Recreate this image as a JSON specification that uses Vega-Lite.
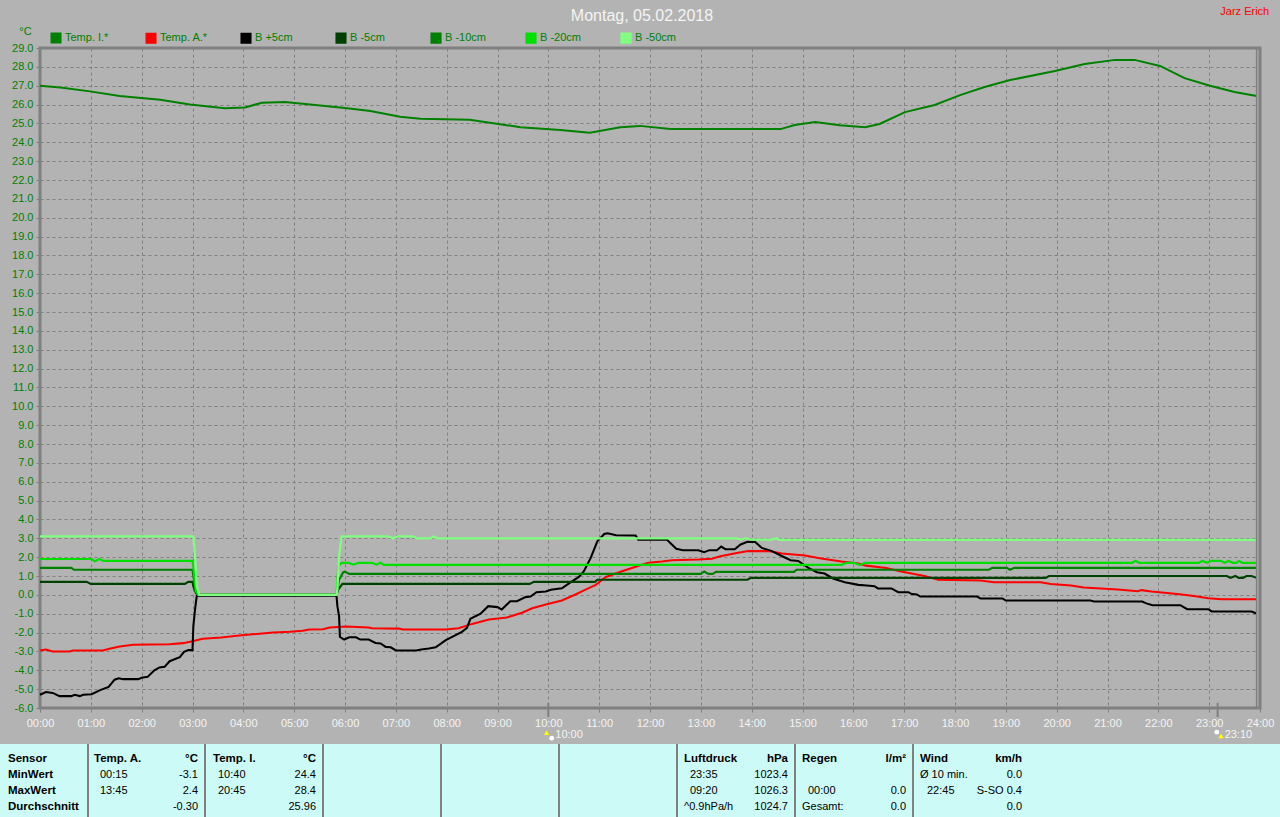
{"$schema":"https://vega.github.io/schema/vega-lite/v6.json","padding":{"left":0,"top":4,"right":0,"bottom":0},"background":"#b3b3b3","bounds":"flush","spacing":36,"config":{"view":{"stroke":"#808080","strokeWidth":3},"text":{"font":"Liberation Sans"}},
"datasets":{"reihen":[
{"reihe":"Temp. I.*","zeit":"00:00","wert":27.0},{"reihe":"Temp. I.*","zeit":"00:24","wert":26.9},{"reihe":"Temp. I.*","zeit":"00:59","wert":26.7},{"reihe":"Temp. I.*","zeit":"01:34","wert":26.45},{"reihe":"Temp. I.*","zeit":"02:22","wert":26.25},{"reihe":"Temp. I.*","zeit":"02:57","wert":26.0},{"reihe":"Temp. I.*","zeit":"03:38","wert":25.8},{"reihe":"Temp. I.*","zeit":"04:02","wert":25.85},{"reihe":"Temp. I.*","zeit":"04:22","wert":26.1},{"reihe":"Temp. I.*","zeit":"04:49","wert":26.13},{"reihe":"Temp. I.*","zeit":"05:19","wert":26.0},{"reihe":"Temp. I.*","zeit":"06:00","wert":25.82},{"reihe":"Temp. I.*","zeit":"06:30","wert":25.66},{"reihe":"Temp. I.*","zeit":"07:05","wert":25.35},{"reihe":"Temp. I.*","zeit":"07:29","wert":25.25},{"reihe":"Temp. I.*","zeit":"08:27","wert":25.2},{"reihe":"Temp. I.*","zeit":"08:57","wert":25.0},{"reihe":"Temp. I.*","zeit":"09:27","wert":24.8},{"reihe":"Temp. I.*","zeit":"10:14","wert":24.65},{"reihe":"Temp. I.*","zeit":"10:49","wert":24.5},{"reihe":"Temp. I.*","zeit":"11:25","wert":24.8},{"reihe":"Temp. I.*","zeit":"11:48","wert":24.87},{"reihe":"Temp. I.*","zeit":"12:24","wert":24.7},{"reihe":"Temp. I.*","zeit":"14:34","wert":24.7},{"reihe":"Temp. I.*","zeit":"14:51","wert":24.92},{"reihe":"Temp. I.*","zeit":"15:15","wert":25.08},{"reihe":"Temp. I.*","zeit":"15:44","wert":24.9},{"reihe":"Temp. I.*","zeit":"16:14","wert":24.8},{"reihe":"Temp. I.*","zeit":"16:31","wert":24.97},{"reihe":"Temp. I.*","zeit":"17:01","wert":25.6},{"reihe":"Temp. I.*","zeit":"17:36","wert":25.98},{"reihe":"Temp. I.*","zeit":"18:06","wert":26.5},{"reihe":"Temp. I.*","zeit":"18:35","wert":26.93},{"reihe":"Temp. I.*","zeit":"19:05","wert":27.3},{"reihe":"Temp. I.*","zeit":"19:58","wert":27.78},{"reihe":"Temp. I.*","zeit":"20:33","wert":28.15},{"reihe":"Temp. I.*","zeit":"21:09","wert":28.37},{"reihe":"Temp. I.*","zeit":"21:32","wert":28.37},{"reihe":"Temp. I.*","zeit":"22:02","wert":28.05},{"reihe":"Temp. I.*","zeit":"22:31","wert":27.4},{"reihe":"Temp. I.*","zeit":"23:01","wert":27.0},{"reihe":"Temp. I.*","zeit":"23:30","wert":26.67},{"reihe":"Temp. I.*","zeit":"23:56","wert":26.45},
{"reihe":"Temp. A.*","zeit":"00:00","wert":-2.95},{"reihe":"Temp. A.*","zeit":"00:07","wert":-2.9},{"reihe":"Temp. A.*","zeit":"00:15","wert":-3.0},{"reihe":"Temp. A.*","zeit":"00:35","wert":-3.0},{"reihe":"Temp. A.*","zeit":"00:39","wert":-2.95},{"reihe":"Temp. A.*","zeit":"01:14","wert":-2.95},{"reihe":"Temp. A.*","zeit":"01:22","wert":-2.86},{"reihe":"Temp. A.*","zeit":"01:34","wert":-2.74},{"reihe":"Temp. A.*","zeit":"01:50","wert":-2.65},{"reihe":"Temp. A.*","zeit":"02:33","wert":-2.62},{"reihe":"Temp. A.*","zeit":"02:49","wert":-2.56},{"reihe":"Temp. A.*","zeit":"03:00","wert":-2.46},{"reihe":"Temp. A.*","zeit":"03:12","wert":-2.33},{"reihe":"Temp. A.*","zeit":"03:34","wert":-2.26},{"reihe":"Temp. A.*","zeit":"03:55","wert":-2.16},{"reihe":"Temp. A.*","zeit":"04:11","wert":-2.09},{"reihe":"Temp. A.*","zeit":"04:35","wert":-2.0},{"reihe":"Temp. A.*","zeit":"04:55","wert":-1.96},{"reihe":"Temp. A.*","zeit":"05:10","wert":-1.9},{"reihe":"Temp. A.*","zeit":"05:18","wert":-1.84},{"reihe":"Temp. A.*","zeit":"05:34","wert":-1.82},{"reihe":"Temp. A.*","zeit":"05:42","wert":-1.73},{"reihe":"Temp. A.*","zeit":"06:01","wert":-1.68},{"reihe":"Temp. A.*","zeit":"06:28","wert":-1.73},{"reihe":"Temp. A.*","zeit":"06:32","wert":-1.77},{"reihe":"Temp. A.*","zeit":"07:04","wert":-1.79},{"reihe":"Temp. A.*","zeit":"07:08","wert":-1.84},{"reihe":"Temp. A.*","zeit":"07:59","wert":-1.84},{"reihe":"Temp. A.*","zeit":"08:14","wert":-1.77},{"reihe":"Temp. A.*","zeit":"08:30","wert":-1.54},{"reihe":"Temp. A.*","zeit":"08:50","wert":-1.31},{"reihe":"Temp. A.*","zeit":"09:11","wert":-1.2},{"reihe":"Temp. A.*","zeit":"09:29","wert":-0.95},{"reihe":"Temp. A.*","zeit":"09:41","wert":-0.71},{"reihe":"Temp. A.*","zeit":"09:57","wert":-0.51},{"reihe":"Temp. A.*","zeit":"10:16","wert":-0.3},{"reihe":"Temp. A.*","zeit":"10:32","wert":0.02},{"reihe":"Temp. A.*","zeit":"10:44","wert":0.28},{"reihe":"Temp. A.*","zeit":"10:56","wert":0.53},{"reihe":"Temp. A.*","zeit":"11:08","wert":0.95},{"reihe":"Temp. A.*","zeit":"11:27","wert":1.25},{"reihe":"Temp. A.*","zeit":"11:45","wert":1.52},{"reihe":"Temp. A.*","zeit":"11:58","wert":1.7},{"reihe":"Temp. A.*","zeit":"12:14","wert":1.77},{"reihe":"Temp. A.*","zeit":"12:26","wert":1.84},{"reihe":"Temp. A.*","zeit":"12:57","wert":1.87},{"reihe":"Temp. A.*","zeit":"13:13","wert":1.91},{"reihe":"Temp. A.*","zeit":"13:23","wert":2.05},{"reihe":"Temp. A.*","zeit":"13:44","wert":2.23},{"reihe":"Temp. A.*","zeit":"13:56","wert":2.32},{"reihe":"Temp. A.*","zeit":"14:20","wert":2.32},{"reihe":"Temp. A.*","zeit":"14:36","wert":2.19},{"reihe":"Temp. A.*","zeit":"15:03","wert":2.09},{"reihe":"Temp. A.*","zeit":"15:22","wert":1.93},{"reihe":"Temp. A.*","zeit":"15:46","wert":1.77},{"reihe":"Temp. A.*","zeit":"16:06","wert":1.66},{"reihe":"Temp. A.*","zeit":"16:15","wert":1.55},{"reihe":"Temp. A.*","zeit":"16:39","wert":1.43},{"reihe":"Temp. A.*","zeit":"16:55","wert":1.25},{"reihe":"Temp. A.*","zeit":"17:24","wert":1.0},{"reihe":"Temp. A.*","zeit":"17:40","wert":0.8},{"reihe":"Temp. A.*","zeit":"18:30","wert":0.76},{"reihe":"Temp. A.*","zeit":"18:46","wert":0.67},{"reihe":"Temp. A.*","zeit":"19:41","wert":0.67},{"reihe":"Temp. A.*","zeit":"19:53","wert":0.57},{"reihe":"Temp. A.*","zeit":"20:17","wert":0.5},{"reihe":"Temp. A.*","zeit":"20:32","wert":0.39},{"reihe":"Temp. A.*","zeit":"21:12","wert":0.28},{"reihe":"Temp. A.*","zeit":"21:36","wert":0.19},{"reihe":"Temp. A.*","zeit":"21:40","wert":0.25},{"reihe":"Temp. A.*","zeit":"21:52","wert":0.18},{"reihe":"Temp. A.*","zeit":"22:28","wert":0.02},{"reihe":"Temp. A.*","zeit":"22:44","wert":-0.07},{"reihe":"Temp. A.*","zeit":"22:59","wert":-0.18},{"reihe":"Temp. A.*","zeit":"23:15","wert":-0.23},{"reihe":"Temp. A.*","zeit":"23:56","wert":-0.23},
{"reihe":"B +5cm","zeit":"00:00","wert":-5.3},{"reihe":"B +5cm","zeit":"00:07","wert":-5.15},{"reihe":"B +5cm","zeit":"00:15","wert":-5.2},{"reihe":"B +5cm","zeit":"00:23","wert":-5.37},{"reihe":"B +5cm","zeit":"00:37","wert":-5.37},{"reihe":"B +5cm","zeit":"00:41","wert":-5.3},{"reihe":"B +5cm","zeit":"00:47","wert":-5.37},{"reihe":"B +5cm","zeit":"00:51","wert":-5.3},{"reihe":"B +5cm","zeit":"01:01","wert":-5.27},{"reihe":"B +5cm","zeit":"01:11","wert":-5.05},{"reihe":"B +5cm","zeit":"01:21","wert":-4.88},{"reihe":"B +5cm","zeit":"01:28","wert":-4.5},{"reihe":"B +5cm","zeit":"01:33","wert":-4.42},{"reihe":"B +5cm","zeit":"01:38","wert":-4.47},{"reihe":"B +5cm","zeit":"01:56","wert":-4.47},{"reihe":"B +5cm","zeit":"02:00","wert":-4.4},{"reihe":"B +5cm","zeit":"02:07","wert":-4.35},{"reihe":"B +5cm","zeit":"02:15","wert":-4.0},{"reihe":"B +5cm","zeit":"02:21","wert":-3.85},{"reihe":"B +5cm","zeit":"02:27","wert":-3.82},{"reihe":"B +5cm","zeit":"02:33","wert":-3.52},{"reihe":"B +5cm","zeit":"02:45","wert":-3.3},{"reihe":"B +5cm","zeit":"02:50","wert":-3.02},{"reihe":"B +5cm","zeit":"02:55","wert":-2.93},{"reihe":"B +5cm","zeit":"03:00","wert":-2.93},{"reihe":"B +5cm","zeit":"03:01","wert":-1.66},{"reihe":"B +5cm","zeit":"03:03","wert":-0.78},{"reihe":"B +5cm","zeit":"03:05","wert":-0.05},{"reihe":"B +5cm","zeit":"05:50","wert":-0.05},{"reihe":"B +5cm","zeit":"05:51","wert":-0.6},{"reihe":"B +5cm","zeit":"05:53","wert":-1.13},{"reihe":"B +5cm","zeit":"05:54","wert":-2.23},{"reihe":"B +5cm","zeit":"05:59","wert":-2.37},{"reihe":"B +5cm","zeit":"06:05","wert":-2.25},{"reihe":"B +5cm","zeit":"06:13","wert":-2.25},{"reihe":"B +5cm","zeit":"06:18","wert":-2.37},{"reihe":"B +5cm","zeit":"06:28","wert":-2.37},{"reihe":"B +5cm","zeit":"06:36","wert":-2.55},{"reihe":"B +5cm","zeit":"06:42","wert":-2.58},{"reihe":"B +5cm","zeit":"06:48","wert":-2.76},{"reihe":"B +5cm","zeit":"06:54","wert":-2.78},{"reihe":"B +5cm","zeit":"07:00","wert":-2.95},{"reihe":"B +5cm","zeit":"07:24","wert":-2.95},{"reihe":"B +5cm","zeit":"07:30","wert":-2.9},{"reihe":"B +5cm","zeit":"07:39","wert":-2.85},{"reihe":"B +5cm","zeit":"07:47","wert":-2.78},{"reihe":"B +5cm","zeit":"07:59","wert":-2.4},{"reihe":"B +5cm","zeit":"08:18","wert":-1.96},{"reihe":"B +5cm","zeit":"08:24","wert":-1.75},{"reihe":"B +5cm","zeit":"08:28","wert":-1.27},{"reihe":"B +5cm","zeit":"08:40","wert":-1.0},{"reihe":"B +5cm","zeit":"08:49","wert":-0.6},{"reihe":"B +5cm","zeit":"09:00","wert":-0.65},{"reihe":"B +5cm","zeit":"09:05","wert":-0.78},{"reihe":"B +5cm","zeit":"09:15","wert":-0.34},{"reihe":"B +5cm","zeit":"09:23","wert":-0.34},{"reihe":"B +5cm","zeit":"09:33","wert":-0.12},{"reihe":"B +5cm","zeit":"09:39","wert":-0.09},{"reihe":"B +5cm","zeit":"09:46","wert":0.14},{"reihe":"B +5cm","zeit":"09:57","wert":0.18},{"reihe":"B +5cm","zeit":"10:03","wert":0.27},{"reihe":"B +5cm","zeit":"10:16","wert":0.35},{"reihe":"B +5cm","zeit":"10:24","wert":0.6},{"reihe":"B +5cm","zeit":"10:36","wert":0.95},{"reihe":"B +5cm","zeit":"10:42","wert":1.25},{"reihe":"B +5cm","zeit":"10:50","wert":1.96},{"reihe":"B +5cm","zeit":"10:58","wert":2.85},{"reihe":"B +5cm","zeit":"11:06","wert":3.23},{"reihe":"B +5cm","zeit":"11:10","wert":3.27},{"reihe":"B +5cm","zeit":"11:20","wert":3.16},{"reihe":"B +5cm","zeit":"11:43","wert":3.15},{"reihe":"B +5cm","zeit":"11:46","wert":2.93},{"reihe":"B +5cm","zeit":"12:20","wert":2.92},{"reihe":"B +5cm","zeit":"12:31","wert":2.44},{"reihe":"B +5cm","zeit":"12:39","wert":2.37},{"reihe":"B +5cm","zeit":"12:57","wert":2.37},{"reihe":"B +5cm","zeit":"13:04","wert":2.26},{"reihe":"B +5cm","zeit":"13:10","wert":2.37},{"reihe":"B +5cm","zeit":"13:19","wert":2.37},{"reihe":"B +5cm","zeit":"13:24","wert":2.56},{"reihe":"B +5cm","zeit":"13:29","wert":2.42},{"reihe":"B +5cm","zeit":"13:40","wert":2.42},{"reihe":"B +5cm","zeit":"13:47","wert":2.67},{"reihe":"B +5cm","zeit":"13:55","wert":2.81},{"reihe":"B +5cm","zeit":"14:04","wert":2.81},{"reihe":"B +5cm","zeit":"14:12","wert":2.49},{"reihe":"B +5cm","zeit":"14:24","wert":2.32},{"reihe":"B +5cm","zeit":"14:36","wert":2.05},{"reihe":"B +5cm","zeit":"14:46","wert":1.84},{"reihe":"B +5cm","zeit":"14:55","wert":1.8},{"reihe":"B +5cm","zeit":"15:07","wert":1.43},{"reihe":"B +5cm","zeit":"15:17","wert":1.2},{"reihe":"B +5cm","zeit":"15:26","wert":1.13},{"reihe":"B +5cm","zeit":"15:36","wert":0.87},{"reihe":"B +5cm","zeit":"15:50","wert":0.67},{"reihe":"B +5cm","zeit":"16:06","wert":0.53},{"reihe":"B +5cm","zeit":"16:16","wert":0.5},{"reihe":"B +5cm","zeit":"16:25","wert":0.46},{"reihe":"B +5cm","zeit":"16:29","wert":0.34},{"reihe":"B +5cm","zeit":"16:45","wert":0.34},{"reihe":"B +5cm","zeit":"16:53","wert":0.14},{"reihe":"B +5cm","zeit":"17:05","wert":0.14},{"reihe":"B +5cm","zeit":"17:09","wert":0.04},{"reihe":"B +5cm","zeit":"17:15","wert":0.02},{"reihe":"B +5cm","zeit":"17:19","wert":-0.09},{"reihe":"B +5cm","zeit":"18:26","wert":-0.09},{"reihe":"B +5cm","zeit":"18:30","wert":-0.19},{"reihe":"B +5cm","zeit":"18:56","wert":-0.19},{"reihe":"B +5cm","zeit":"19:00","wert":-0.3},{"reihe":"B +5cm","zeit":"20:40","wert":-0.3},{"reihe":"B +5cm","zeit":"20:44","wert":-0.35},{"reihe":"B +5cm","zeit":"21:41","wert":-0.35},{"reihe":"B +5cm","zeit":"21:45","wert":-0.44},{"reihe":"B +5cm","zeit":"21:53","wert":-0.55},{"reihe":"B +5cm","zeit":"22:26","wert":-0.55},{"reihe":"B +5cm","zeit":"22:34","wert":-0.76},{"reihe":"B +5cm","zeit":"22:59","wert":-0.76},{"reihe":"B +5cm","zeit":"23:03","wert":-0.88},{"reihe":"B +5cm","zeit":"23:50","wert":-0.88},{"reihe":"B +5cm","zeit":"23:56","wert":-0.99},
{"reihe":"B -5cm","zeit":"00:00","wert":0.69},{"reihe":"B -5cm","zeit":"00:55","wert":0.69},{"reihe":"B -5cm","zeit":"01:00","wert":0.58},{"reihe":"B -5cm","zeit":"02:51","wert":0.58},{"reihe":"B -5cm","zeit":"02:55","wert":0.69},{"reihe":"B -5cm","zeit":"03:00","wert":0.69},{"reihe":"B -5cm","zeit":"03:01","wert":0.45},{"reihe":"B -5cm","zeit":"03:04","wert":0.1},{"reihe":"B -5cm","zeit":"03:07","wert":0},{"reihe":"B -5cm","zeit":"05:50","wert":0},{"reihe":"B -5cm","zeit":"05:52","wert":0.28},{"reihe":"B -5cm","zeit":"05:57","wert":0.58},{"reihe":"B -5cm","zeit":"09:38","wert":0.58},{"reihe":"B -5cm","zeit":"09:43","wert":0.69},{"reihe":"B -5cm","zeit":"10:55","wert":0.69},{"reihe":"B -5cm","zeit":"10:58","wert":0.8},{"reihe":"B -5cm","zeit":"13:55","wert":0.8},{"reihe":"B -5cm","zeit":"13:59","wert":0.9},{"reihe":"B -5cm","zeit":"19:47","wert":0.9},{"reihe":"B -5cm","zeit":"19:51","wert":1.0},{"reihe":"B -5cm","zeit":"23:21","wert":1.0},{"reihe":"B -5cm","zeit":"23:25","wert":0.9},{"reihe":"B -5cm","zeit":"23:31","wert":1.0},{"reihe":"B -5cm","zeit":"23:35","wert":0.9},{"reihe":"B -5cm","zeit":"23:40","wert":0.9},{"reihe":"B -5cm","zeit":"23:44","wert":1.0},{"reihe":"B -5cm","zeit":"23:50","wert":1.0},{"reihe":"B -5cm","zeit":"23:56","wert":0.9},
{"reihe":"B -10cm","zeit":"00:00","wert":1.43},{"reihe":"B -10cm","zeit":"00:37","wert":1.43},{"reihe":"B -10cm","zeit":"00:40","wert":1.33},{"reihe":"B -10cm","zeit":"03:00","wert":1.33},{"reihe":"B -10cm","zeit":"03:01","wert":1.0},{"reihe":"B -10cm","zeit":"03:04","wert":0.2},{"reihe":"B -10cm","zeit":"03:07","wert":0},{"reihe":"B -10cm","zeit":"05:50","wert":0},{"reihe":"B -10cm","zeit":"05:53","wert":0.8},{"reihe":"B -10cm","zeit":"05:58","wert":1.2},{"reihe":"B -10cm","zeit":"06:00","wert":1.23},{"reihe":"B -10cm","zeit":"06:05","wert":1.11},{"reihe":"B -10cm","zeit":"13:00","wert":1.11},{"reihe":"B -10cm","zeit":"13:04","wert":1.24},{"reihe":"B -10cm","zeit":"13:09","wert":1.11},{"reihe":"B -10cm","zeit":"13:14","wert":1.11},{"reihe":"B -10cm","zeit":"13:18","wert":1.22},{"reihe":"B -10cm","zeit":"14:50","wert":1.22},{"reihe":"B -10cm","zeit":"14:53","wert":1.33},{"reihe":"B -10cm","zeit":"18:40","wert":1.33},{"reihe":"B -10cm","zeit":"18:44","wert":1.43},{"reihe":"B -10cm","zeit":"19:01","wert":1.43},{"reihe":"B -10cm","zeit":"19:05","wert":1.33},{"reihe":"B -10cm","zeit":"19:10","wert":1.43},{"reihe":"B -10cm","zeit":"23:56","wert":1.43},
{"reihe":"B -20cm","zeit":"00:00","wert":1.9},{"reihe":"B -20cm","zeit":"01:01","wert":1.9},{"reihe":"B -20cm","zeit":"01:05","wert":1.78},{"reihe":"B -20cm","zeit":"01:10","wert":1.9},{"reihe":"B -20cm","zeit":"01:15","wert":1.8},{"reihe":"B -20cm","zeit":"03:00","wert":1.8},{"reihe":"B -20cm","zeit":"03:01","wert":1.5},{"reihe":"B -20cm","zeit":"03:04","wert":0.2},{"reihe":"B -20cm","zeit":"03:07","wert":0},{"reihe":"B -20cm","zeit":"05:50","wert":0},{"reihe":"B -20cm","zeit":"05:52","wert":1.5},{"reihe":"B -20cm","zeit":"05:56","wert":1.7},{"reihe":"B -20cm","zeit":"06:04","wert":1.7},{"reihe":"B -20cm","zeit":"06:10","wert":1.6},{"reihe":"B -20cm","zeit":"06:16","wert":1.7},{"reihe":"B -20cm","zeit":"06:32","wert":1.7},{"reihe":"B -20cm","zeit":"06:37","wert":1.6},{"reihe":"B -20cm","zeit":"06:42","wert":1.7},{"reihe":"B -20cm","zeit":"06:46","wert":1.59},{"reihe":"B -20cm","zeit":"15:46","wert":1.59},{"reihe":"B -20cm","zeit":"15:52","wert":1.7},{"reihe":"B -20cm","zeit":"16:00","wert":1.7},{"reihe":"B -20cm","zeit":"16:08","wert":1.58},{"reihe":"B -20cm","zeit":"16:14","wert":1.7},{"reihe":"B -20cm","zeit":"21:29","wert":1.7},{"reihe":"B -20cm","zeit":"21:33","wert":1.8},{"reihe":"B -20cm","zeit":"21:38","wert":1.7},{"reihe":"B -20cm","zeit":"22:48","wert":1.7},{"reihe":"B -20cm","zeit":"22:52","wert":1.8},{"reihe":"B -20cm","zeit":"22:58","wert":1.7},{"reihe":"B -20cm","zeit":"23:02","wert":1.8},{"reihe":"B -20cm","zeit":"23:14","wert":1.8},{"reihe":"B -20cm","zeit":"23:18","wert":1.7},{"reihe":"B -20cm","zeit":"23:23","wert":1.8},{"reihe":"B -20cm","zeit":"23:28","wert":1.7},{"reihe":"B -20cm","zeit":"23:32","wert":1.7},{"reihe":"B -20cm","zeit":"23:35","wert":1.8},{"reihe":"B -20cm","zeit":"23:39","wert":1.7},{"reihe":"B -20cm","zeit":"23:56","wert":1.7},
{"reihe":"B -50cm","zeit":"00:00","wert":3.1},{"reihe":"B -50cm","zeit":"03:01","wert":3.1},{"reihe":"B -50cm","zeit":"03:03","wert":2.05},{"reihe":"B -50cm","zeit":"03:05","wert":0.45},{"reihe":"B -50cm","zeit":"03:08","wert":0},{"reihe":"B -50cm","zeit":"05:50","wert":0},{"reihe":"B -50cm","zeit":"05:51","wert":0.28},{"reihe":"B -50cm","zeit":"05:53","wert":2.05},{"reihe":"B -50cm","zeit":"05:56","wert":3.1},{"reihe":"B -50cm","zeit":"06:51","wert":3.1},{"reihe":"B -50cm","zeit":"06:57","wert":3.0},{"reihe":"B -50cm","zeit":"07:02","wert":3.1},{"reihe":"B -50cm","zeit":"07:20","wert":3.1},{"reihe":"B -50cm","zeit":"07:25","wert":3.0},{"reihe":"B -50cm","zeit":"07:41","wert":3.0},{"reihe":"B -50cm","zeit":"07:45","wert":3.1},{"reihe":"B -50cm","zeit":"07:49","wert":3.0},{"reihe":"B -50cm","zeit":"13:43","wert":3.0},{"reihe":"B -50cm","zeit":"13:47","wert":2.93},{"reihe":"B -50cm","zeit":"13:53","wert":3.0},{"reihe":"B -50cm","zeit":"13:59","wert":2.93},{"reihe":"B -50cm","zeit":"14:24","wert":2.93},{"reihe":"B -50cm","zeit":"14:29","wert":3.0},{"reihe":"B -50cm","zeit":"14:33","wert":2.92},{"reihe":"B -50cm","zeit":"23:56","wert":2.92}
],
"tabelle":[
{"spalte":0,"zeile":0,"text":"Sensor"},{"spalte":0,"zeile":1,"text":"MinWert"},{"spalte":0,"zeile":2,"text":"MaxWert"},{"spalte":0,"zeile":3,"text":"Durchschnitt"},
{"spalte":2,"zeile":0,"text":"Temp. A."},{"spalte":4,"zeile":0,"text":"°C"},{"spalte":3,"zeile":1,"text":"00:15"},{"spalte":4,"zeile":1,"text":"-3.1"},{"spalte":3,"zeile":2,"text":"13:45"},{"spalte":4,"zeile":2,"text":"2.4"},{"spalte":4,"zeile":3,"text":"-0.30"},
{"spalte":6,"zeile":0,"text":"Temp. I."},{"spalte":8,"zeile":0,"text":"°C"},{"spalte":7,"zeile":1,"text":"10:40"},{"spalte":8,"zeile":1,"text":"24.4"},{"spalte":7,"zeile":2,"text":"20:45"},{"spalte":8,"zeile":2,"text":"28.4"},{"spalte":8,"zeile":3,"text":"25.96"},
{"spalte":13,"zeile":0,"text":"Luftdruck"},{"spalte":15,"zeile":0,"text":"hPa"},{"spalte":14,"zeile":1,"text":"23:35"},{"spalte":15,"zeile":1,"text":"1023.4"},{"spalte":14,"zeile":2,"text":"09:20"},{"spalte":15,"zeile":2,"text":"1026.3"},{"spalte":13,"zeile":3,"text":"^0.9hPa/h"},{"spalte":15,"zeile":3,"text":"1024.7"},
{"spalte":17,"zeile":0,"text":"Regen"},{"spalte":19,"zeile":0,"text":"l/m²"},{"spalte":18,"zeile":2,"text":"00:00"},{"spalte":19,"zeile":2,"text":"0.0"},{"spalte":17,"zeile":3,"text":"Gesamt:"},{"spalte":19,"zeile":3,"text":"0.0"},
{"spalte":21,"zeile":0,"text":"Wind"},{"spalte":23,"zeile":0,"text":"km/h"},{"spalte":21,"zeile":1,"text":"Ø 10 min."},{"spalte":23,"zeile":1,"text":"0.0"},{"spalte":22,"zeile":2,"text":"22:45"},{"spalte":23,"zeile":2,"text":"S-SO 0.4"},{"spalte":23,"zeile":3,"text":"0.0"}
]},
"vconcat":[
{"width":1220,"height":660,"title":{"text":"Montag, 05.02.2018","color":"#f4f4f4","font":"Liberation Sans","fontSize":16,"fontWeight":"normal","anchor":"middle","offset":-18.5,"dx":-8},"layer":[
{"data":{"name":"reihen","format":{"parse":{"zeit":"utc:'%H:%M'"}}},"mark":{"type":"line","interpolate":"linear"},"encoding":{
"x":{"field":"zeit","type":"temporal","scale":{"type":"utc","domain":[{"year":1900,"month":1,"date":1,"hours":0,"utc":true},{"year":1900,"month":1,"date":2,"hours":0,"utc":true}]},"axis":{"title":null,"domain":false,"values":[-2208988800000,-2208985200000,-2208981600000,-2208978000000,-2208974400000,-2208970800000,-2208967200000,-2208963600000,-2208960000000,-2208956400000,-2208952800000,-2208949200000,-2208945600000,-2208942000000,-2208938400000,-2208934800000,-2208931200000,-2208927600000,-2208924000000,-2208920400000,-2208916800000,-2208913200000,-2208909600000,-2208906000000,-2208902400000],"tickCount":40,"labelExpr":"utcdate(datum.value)==2?'24:00':utcFormat(datum.value,'%H:%M')","labelColor":"#f4f4f4","labelFont":"Liberation Sans","labelFontSize":11,"labelPadding":5,"labelOverlap":false,"labelFlush":false,"tickColor":"#808080","tickSize":4,"tickWidth":1,"grid":true,"gridColor":"#808080","gridDash":[3,3],"gridWidth":1}},
"y":{"field":"wert","type":"quantitative","scale":{"domain":[-6,29],"nice":false,"zero":false},"axis":{"title":"°C","titleAngle":0,"titleX":-15,"titleY":-12,"titleColor":"#008000","titleFont":"Liberation Sans","titleFontSize":11,"titleFontWeight":"normal","titleAlign":"center","domain":false,"values":[-6,-5,-4,-3,-2,-1,0,1,2,3,4,5,6,7,8,9,10,11,12,13,14,15,16,17,18,19,20,21,22,23,24,25,26,27,28,29],"tickCount":40,"labelExpr":"(datum.value<0?'-':'')+format(abs(datum.value),'.1f')","labelColor":"#008000","labelFont":"Liberation Sans","labelFontSize":11,"labelPadding":3,"labelOverlap":false,"labelFlush":false,"tickColor":"#808080","tickSize":4,"grid":true,"gridColor":"#808080","gridDash":[3,3],"gridWidth":1}},
"color":{"field":"reihe","type":"nominal","scale":{"domain":["Temp. I.*","Temp. A.*","B +5cm","B -5cm","B -10cm","B -20cm","B -50cm"],"range":["#008000","#ff0000","#000000","#004000","#008000","#00e000","#80ff80"]},"sort":null,"legend":{"title":null,"orient":"none","legendX":10,"legendY":-16,"columns":7,"gridAlign":"all","columnPadding":29,"symbolType":"square","symbolSize":81,"labelColor":"#008000","labelFont":"Liberation Sans","labelFontSize":11,"labelOffset":3,"padding":0,"symbolStrokeColor":"#ffffff","encode":{"symbols":{"update":{"fill":{"scale":"color","field":"value"},"stroke":{"value":"#ffffff"},"strokeWidth":{"value":1.5},"opacity":{"value":1}}}}}},
"strokeWidth":{"field":"reihe","type":"nominal","scale":{"domain":["Temp. I.*","Temp. A.*","B +5cm","B -5cm","B -10cm","B -20cm","B -50cm"],"range":[2,2.2,2.2,3,3,4,3]},"legend":null}}},
{"data":{"values":[{"zeit":"23:56"}],"format":{"parse":{"zeit":"utc:'%H:%M'"}}},"mark":{"type":"rule","color":"#808080","strokeWidth":1.5},"encoding":{"x":{"field":"zeit","type":"temporal"}}},
{"data":{"values":[{"zeit":"10:00"},{"zeit":"23:10"}],"format":{"parse":{"zeit":"utc:'%H:%M'"}}},"mark":{"type":"rule","color":"#808080","strokeWidth":2},"encoding":{"x":{"field":"zeit","type":"temporal"},"y":{"datum":-5.73,"type":"quantitative"},"y2":{"datum":-6.48}}},
{"data":{"values":[{"zeit":"10:00","text":"10:00"},{"zeit":"23:10","text":"23:10"}],"format":{"parse":{"zeit":"utc:'%H:%M'"}}},"mark":{"type":"text","align":"left","baseline":"middle","dx":7,"color":"#f4f4f4","font":"Liberation Sans","fontSize":11},"encoding":{"x":{"field":"zeit","type":"temporal"},"y":{"datum":-7.43,"type":"quantitative"},"text":{"field":"text"}}},
{"data":{"values":[{"zeit":"10:04","hoehe":-7.6},{"zeit":"23:09","hoehe":-7.28}],"format":{"parse":{"zeit":"utc:'%H:%M'"}}},"mark":{"type":"point","shape":"circle","filled":true,"color":"#ffffff","opacity":1,"size":22},"encoding":{"x":{"field":"zeit","type":"temporal"},"y":{"field":"hoehe","type":"quantitative"}}},
{"data":{"values":[{"zeit":"09:58","hoehe":-7.31},{"zeit":"23:14","hoehe":-7.48}],"format":{"parse":{"zeit":"utc:'%H:%M'"}}},"mark":{"type":"point","shape":"triangle-up","filled":true,"color":"#ffff00","opacity":1,"size":28},"encoding":{"x":{"field":"zeit","type":"temporal"},"y":{"field":"hoehe","type":"quantitative"}}},
{"data":{"values":[{"zeit":"23:42","text":"Jarz Erich"}],"format":{"parse":{"zeit":"utc:'%H:%M'"}}},"mark":{"type":"text","align":"center","baseline":"middle","color":"#ff0000","font":"Liberation Sans","fontSize":11},"encoding":{"x":{"field":"zeit","type":"temporal"},"y":{"datum":30.91,"type":"quantitative"},"text":{"field":"text"}}}
]},
{"width":1220,"height":73,"view":{"stroke":null},"encoding":{"x":{"type":"quantitative","scale":{"domain":[-1,0,1,2,3,4,5,6,7,8,9,10,11,12,13,14,15,16,17,18,19,20,21,22,23,24],"range":[-40,-32,48,54,60,158,165,173,178,276,283,401,519,637,644,650,748,755,762,768,866,873,880,887,982,1240]},"axis":null},"y":{"type":"quantitative","scale":{"domain":[-1,0,3,4],"range":[0,15,63,73]},"axis":null}},
"layer":[
{"data":{"values":[{"feld":"Hintergrund"}]},"mark":{"type":"rect","color":"#ccfbf7"},"encoding":{"x":{"datum":-1,"type":"quantitative"},"x2":{"datum":24},"y":{"datum":-1,"type":"quantitative"},"y2":{"datum":4}}},
{"data":{"values":[{"spalte":1},{"spalte":5},{"spalte":9},{"spalte":10},{"spalte":11},{"spalte":12},{"spalte":16},{"spalte":20}]},"mark":{"type":"rule","color":"#808080","strokeWidth":2},"encoding":{"x":{"field":"spalte","type":"quantitative"},"y":{"datum":-1,"type":"quantitative"},"y2":{"datum":4}}},
{"data":{"name":"tabelle"},"transform":[{"filter":"(datum.zeile==0||datum.spalte==0)&&indexof([4,8,15,19,23],datum.spalte)<0"}],"mark":{"type":"text","align":"left","baseline":"middle","fontWeight":"bold","font":"Liberation Sans","fontSize":11.5,"color":"#000000"},"encoding":{"x":{"field":"spalte","type":"quantitative"},"y":{"field":"zeile","type":"quantitative"},"text":{"field":"text"}}},
{"data":{"name":"tabelle"},"transform":[{"filter":"datum.zeile==0&&indexof([4,8,15,19,23],datum.spalte)>=0"}],"mark":{"type":"text","align":"right","baseline":"middle","fontWeight":"bold","font":"Liberation Sans","fontSize":11.5,"color":"#000000"},"encoding":{"x":{"field":"spalte","type":"quantitative"},"y":{"field":"zeile","type":"quantitative"},"text":{"field":"text"}}},
{"data":{"name":"tabelle"},"transform":[{"filter":"datum.zeile>0&&datum.spalte>0&&indexof([4,8,15,19,23],datum.spalte)<0"}],"mark":{"type":"text","align":"left","baseline":"middle","font":"Liberation Sans","fontSize":11,"color":"#000000"},"encoding":{"x":{"field":"spalte","type":"quantitative"},"y":{"field":"zeile","type":"quantitative"},"text":{"field":"text"}}},
{"data":{"name":"tabelle"},"transform":[{"filter":"datum.zeile>0&&indexof([4,8,15,19,23],datum.spalte)>=0"}],"mark":{"type":"text","align":"right","baseline":"middle","font":"Liberation Sans","fontSize":11,"color":"#000000"},"encoding":{"x":{"field":"spalte","type":"quantitative"},"y":{"field":"zeile","type":"quantitative"},"text":{"field":"text"}}}
]}
]}
